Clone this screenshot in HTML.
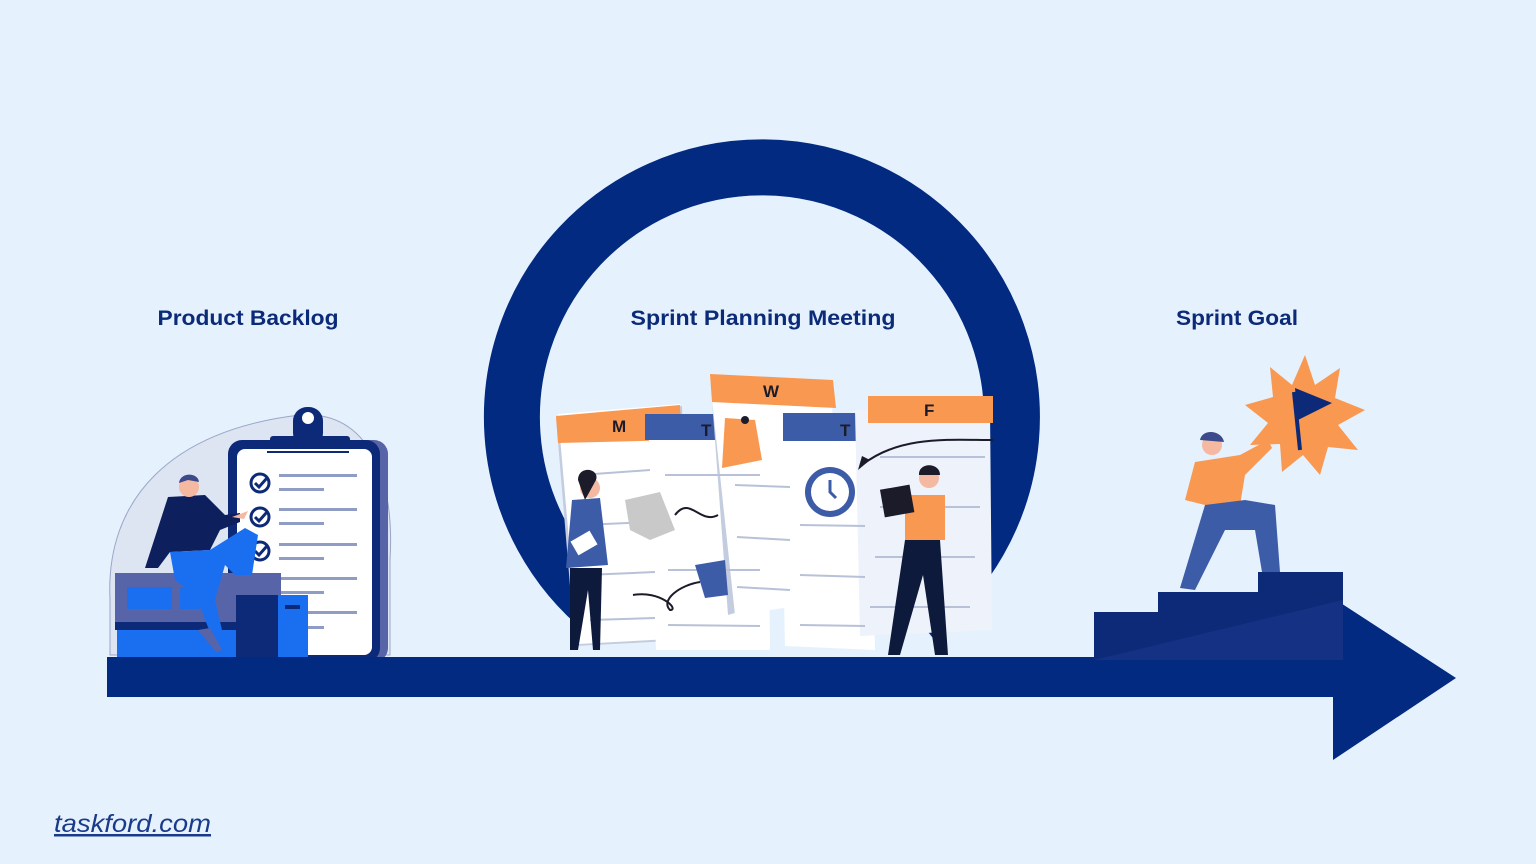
<!DOCTYPE html>
<html><head><meta charset="utf-8"><style>
html,body{margin:0;padding:0;background:#e6f1fe;}
svg{display:block}
text{font-family:"Liberation Sans",sans-serif}
</style></head><body>
<svg width="1536" height="864" viewBox="0 0 1536 864" xmlns="http://www.w3.org/2000/svg">
<rect width="1536" height="864" fill="#e6f1fe"/>
<!-- ring -->
<path d="M605 612 A250 250 0 1 1 915 615" fill="none" stroke="#012a80" stroke-width="56"/>
<!-- titles -->
<text x="248" y="325" text-anchor="middle" font-size="21" font-weight="bold" fill="#0b2a78" textLength="181" lengthAdjust="spacingAndGlyphs">Product Backlog</text>
<text x="763" y="325" text-anchor="middle" font-size="21" font-weight="bold" fill="#0b2a78" textLength="265" lengthAdjust="spacingAndGlyphs">Sprint Planning Meeting</text>
<text x="1237" y="325" text-anchor="middle" font-size="21" font-weight="bold" fill="#0b2a78" textLength="122" lengthAdjust="spacingAndGlyphs">Sprint Goal</text>
<text x="54" y="832" font-size="25" fill="#1a3a8a" font-style="italic" text-decoration="underline" textLength="157" lengthAdjust="spacingAndGlyphs">taskford.com</text>

<!-- backlog illustration -->
<path d="M110 600 C105 500 170 430 300 415 C370 410 395 480 390 560 L390 655 L110 655 Z" fill="#dde4f2" stroke="#9aa6c8" stroke-width="1"/>
<rect x="236" y="440" width="152" height="222" rx="14" fill="#5864a8"/>
<rect x="228" y="440" width="152" height="222" rx="14" fill="#0d2a78"/>
<rect x="237" y="449" width="135" height="206" rx="8" fill="#ffffff"/>
<rect x="293" y="407" width="30" height="40" rx="14" fill="#0d2a78"/>
<circle cx="308" cy="418" r="6" fill="#fff"/>
<rect x="270" y="436" width="80" height="10" rx="3" fill="#0d2a78"/>
<rect x="267" y="451" width="82" height="2" fill="#0d2a78"/>
<g fill="none" stroke="#0d2a78" stroke-width="3">
<circle cx="260" cy="483" r="9"/><circle cx="260" cy="517" r="9"/><circle cx="260" cy="551" r="9"/>
<path d="M255 483 l4 4 l8 -9 M255 517 l4 4 l8 -9 M255 551 l4 4 l8 -9"/>
</g>
<g fill="#8f9cc4">
<rect x="279" y="474" width="78" height="3"/><rect x="279" y="488" width="45" height="3"/>
<rect x="279" y="508" width="78" height="3"/><rect x="279" y="522" width="45" height="3"/>
<rect x="279" y="543" width="78" height="3"/><rect x="279" y="557" width="45" height="3"/>
<rect x="279" y="577" width="78" height="3"/><rect x="279" y="591" width="45" height="3"/>
<rect x="279" y="611" width="78" height="3"/><rect x="279" y="626" width="45" height="3"/>
</g>
<rect x="115" y="573" width="166" height="55" fill="#5864a8"/>
<rect x="127" y="587" width="45" height="22" fill="#1a6ff0"/>
<rect x="180" y="587" width="20" height="22" fill="#1a6ff0"/>
<rect x="115" y="622" width="130" height="8" fill="#0d2a78"/>
<rect x="117" y="630" width="120" height="27" fill="#1a6ff0"/>
<rect x="236" y="595" width="42" height="65" fill="#0d2a78"/>
<rect x="278" y="595" width="30" height="65" fill="#1a6ff0"/>
<rect x="285" y="605" width="15" height="4" fill="#0d2a78"/>
<!-- man -->
<path d="M168 497 L205 495 L225 515 L240 513 L240 522 L220 530 L210 550 L170 552 L158 568 L145 568 Z" fill="#0d1f5c"/>
<circle cx="189" cy="487" r="10" fill="#f5b8a0"/>
<path d="M179 483 C180 472 198 472 199 482 L188 480 Z" fill="#3c4a8c"/>
<path d="M170 552 L210 550 L245 528 L258 535 L252 575 L235 575 L225 565 L215 600 L222 630 L210 632 L195 595 L175 580 Z" fill="#1a6ff0"/>
<path d="M198 630 l12 -2 l12 22 l-6 2 Z" fill="#5864a8"/>
<path d="M232 517 l16 -6 l-4 8 Z" fill="#f5b8a0"/>

<!-- papers -->
<g>
<polygon points="556,418 682,406 690,640 575,646" fill="#c4cde0"/>
<polygon points="558,414 680,404 688,638 578,644" fill="#ffffff"/>
<polygon points="556,416 680,405 682,440 558,443" fill="#f99850"/>
<text x="612" y="432" font-size="17" font-weight="bold" fill="#1b1b2a">M</text>
<polygon points="648,414 768,414 770,650 656,650" fill="#ffffff"/>
<rect x="645" y="414" width="122" height="26" fill="#3d5ca8"/>
<text x="701" y="436" font-size="17" font-weight="bold" fill="#1b1b2a">T</text>
<polygon points="712,400 732,400 745,610 728,615" fill="#c4cde0"/>
<polygon points="712,400 832,405 840,600 735,615" fill="#ffffff"/>
<polygon points="710,374 833,380 836,408 712,402" fill="#f99850"/>
<text x="763" y="397" font-size="17" font-weight="bold" fill="#1b1b2a">W</text>
<polygon points="780,413 870,413 875,650 785,646" fill="#ffffff"/>
<rect x="783" y="413" width="90" height="28" fill="#3d5ca8"/>
<text x="840" y="436" font-size="17" font-weight="bold" fill="#1b1b2a">T</text>
<polygon points="855,410 990,408 992,630 860,636" fill="#eef2fa"/>
<rect x="868" y="396" width="125" height="27" fill="#f99850"/>
<text x="924" y="416" font-size="17" font-weight="bold" fill="#1b1b2a">F</text>
<g stroke="#b8c1d8" stroke-width="2">
<line x1="580" y1="475" x2="650" y2="470"/><line x1="582" y1="525" x2="650" y2="522"/><line x1="585" y1="575" x2="655" y2="572"/><line x1="590" y1="620" x2="655" y2="618"/>
<line x1="665" y1="475" x2="760" y2="475"/><line x1="668" y1="570" x2="760" y2="570"/><line x1="668" y1="625" x2="760" y2="626"/>
<line x1="735" y1="485" x2="790" y2="487"/><line x1="737" y1="537" x2="790" y2="540"/><line x1="737" y1="587" x2="790" y2="590"/>
<line x1="800" y1="525" x2="865" y2="526"/><line x1="800" y1="575" x2="865" y2="577"/><line x1="800" y1="625" x2="865" y2="626"/>
<line x1="880" y1="457" x2="985" y2="457"/><line x1="880" y1="507" x2="980" y2="507"/><line x1="875" y1="557" x2="975" y2="557"/><line x1="870" y1="607" x2="970" y2="607"/>
</g>
<polygon points="725,418 755,420 762,460 722,468" fill="#f99850"/>
<circle cx="745" cy="420" r="4" fill="#1b1b2a"/>
<circle cx="830" cy="492" r="25" fill="#3d5ca8"/><circle cx="830" cy="492" r="19" fill="#fff"/>
<path d="M830 480 v12 l6 6" stroke="#3d5ca8" stroke-width="3" fill="none"/>
<path d="M993 440 C950 440 900 435 862 465" stroke="#1b1b2a" stroke-width="2" fill="none"/>
<polygon points="858,470 870,460 862,456" fill="#1b1b2a"/>
<polygon points="625,500 660,492 675,530 650,540 630,530" fill="#c9c9c9"/>
<polygon points="695,565 725,560 728,595 705,598" fill="#3d5ca8"/>
<path d="M675 515 C690 495 700 525 718 515" stroke="#1b1b2a" stroke-width="2" fill="none"/>
<path d="M633 595 C660 590 680 610 670 610 C660 600 680 585 700 582" stroke="#1b1b2a" stroke-width="2" fill="none"/>
</g>
<!-- woman -->
<circle cx="590" cy="488" r="10" fill="#f5b8a0"/>
<path d="M578 480 C578 465 600 468 596 480 L585 500 Z" fill="#1b1b2a"/>
<path d="M572 500 L600 498 L608 565 L566 568 Z" fill="#3d5ca8"/>
<path d="M570 568 L602 568 L600 650 L593 650 L588 590 L578 650 L570 650 Z" fill="#0d1a3c"/>
<rect x="573" y="535" width="22" height="16" fill="#fff" transform="rotate(-30 584 543)"/>
<!-- man right -->
<circle cx="929" cy="478" r="10" fill="#f5b8a0"/>
<path d="M919 475 C918 462 940 462 940 475 Z" fill="#1b1b2a"/>
<rect x="905" y="495" width="40" height="45" fill="#f99850"/>
<rect x="882" y="487" width="30" height="28" fill="#1b1b2a" transform="rotate(-10 897 500)"/>
<path d="M905 540 L940 540 L948 655 L935 655 L923 575 L900 655 L888 655 Z" fill="#0d1a3c"/>

<!-- arrow -->
<rect x="107" y="657" width="1230" height="40" fill="#012a80"/>
<polygon points="1333,598 1456,678 1333,760" fill="#012a80"/>

<!-- stairs -->
<polygon points="1094,660 1094,612 1158,612 1158,592 1258,592 1258,572 1343,572 1343,660" fill="#0d2a78"/>
<polygon points="1094,660 1343,600 1343,660" fill="#1a378a" opacity="0.6"/>
<!-- starburst -->
<polygon fill="#f99850" points="1305,355 1315,385 1340,368 1335,398 1365,410 1338,425 1358,450 1328,447 1320,475 1303,455 1282,472 1280,444 1250,445 1268,423 1245,405 1273,397 1270,367 1292,385"/>
<path d="M1294 392 L1300 450" stroke="#0d2a78" stroke-width="4"/>
<polygon points="1295,388 1332,403 1298,420" fill="#0d2a78"/>
<!-- goal man -->
<circle cx="1212" cy="445" r="10" fill="#f5b8a0"/>
<path d="M1200 440 C1202 428 1222 430 1224 442 Z" fill="#3c4a8c"/>
<path d="M1195 462 L1240 455 L1268 440 L1272 448 L1245 475 L1240 505 L1205 505 L1185 500 Z" fill="#f99850"/>
<path d="M1205 505 L1245 500 L1275 505 L1280 572 L1262 572 L1255 530 L1225 530 L1195 590 L1180 588 Z" fill="#3d5ca8"/>
</svg>
</body></html>
